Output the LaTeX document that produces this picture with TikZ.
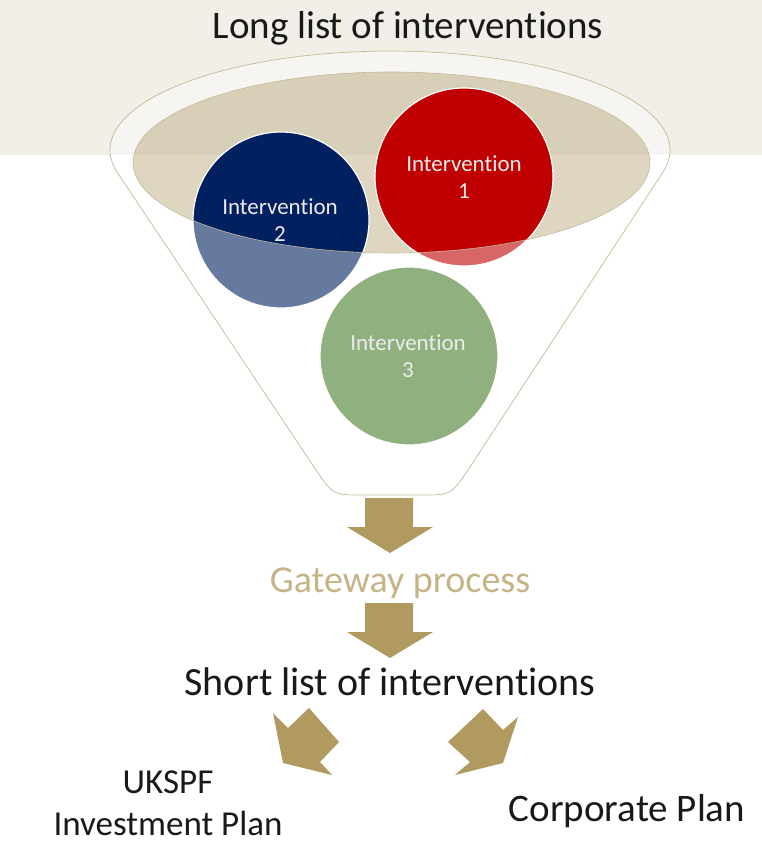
\documentclass[tikz,border=0pt]{standalone}
\usepackage{fontspec}
\setmainfont[Ligatures=NoCommon]{Carlito}
\definecolor{band}{RGB}{242,239,232}
\definecolor{tanell}{RGB}{200,187,152}
\definecolor{funline}{RGB}{196,184,150}
\definecolor{navy}{RGB}{0,32,96}
\definecolor{ired}{RGB}{192,0,0}
\definecolor{igreen}{RGB}{72,124,44}
\definecolor{arrowtan}{RGB}{176,154,95}
\definecolor{gatetxt}{RGB}{196,180,134}
\definecolor{maintxt}{RGB}{25,25,25}
\definecolor{circtext}{RGB}{236,236,236}
\tikzset{
  circ/.style={draw=white, line width=1.2pt},
  circtxt/.style={align=center, text=circtext, inner sep=0pt, font=\fontsize{23}{27}\selectfont},
  bigtxt/.style={text=maintxt, inner sep=0pt, anchor=base, font=\fontsize{39}{47}\selectfont},
  gatestyle/.style={text=gatetxt, inner sep=0pt, anchor=base, font=\fontsize{38}{46}\selectfont},
  plantxt/.style={text=maintxt, inner sep=0pt, anchor=base, font=\fontsize{35}{42}\selectfont},
  blockarrow/.style={fill=arrowtan},
  funnelline/.style={draw=funline, line width=0.7pt}
}
\def\funnelpath{(118,173.5) arc[start angle=166.3, end angle=373.7, x radius=280, y radius=99] -- (468,470) .. controls (451,495) .. (421,495) -- (363,495) .. controls (333,495) .. (316,470) -- cycle}
\begin{document}
\begin{tikzpicture}[x=1pt, y=-1pt]
\useasboundingbox (0,0) rectangle (762,848);
% top band
\fill[band] (0,0) rectangle (762,155);
% inner ellipse (top of funnel)
\fill[tanell, opacity=0.6] (391.5,162.5) ellipse [x radius=258.5, y radius=90.5];
% circles
\fill[ired] (464,177) circle [radius=89];
\fill[navy] (281,220) circle [radius=88];
\fill[igreen] (409,356) circle [radius=89];
% translucent funnel body
\fill[white, opacity=0.4, even odd rule] \funnelpath (391.5,162.5) ellipse [x radius=258.5, y radius=90.5];
% circle borders
\draw[circ] (464,177) circle [radius=89];
\draw[circ] (281,220) circle [radius=88];
\draw[circ] (409,356) circle [radius=89];
% outlines
\draw[funnelline] \funnelpath;
\draw[funline, line width=0.6pt] (391.5,162.5) ellipse [x radius=258.5, y radius=90.5];
% circle labels
\node[circtxt] (i1) at (464,177) {Intervention\\1};
\node[circtxt] (i2) at (280,220) {Intervention\\2};
\node[circtxt] (i3) at (408,356) {Intervention\\3};
% texts
\node[bigtxt] (long) at (408,39) {Long list of interventions};
\node[gatestyle] (gate) at (400,592) {Gateway process};
\node[bigtxt, font=\fontsize{40}{48}\selectfont] (short) at (390,695) {Short list of interventions};
\node[plantxt] (uk1) at (168,793) {UKSPF};
\node[plantxt] (uk2) at (168,835) {Investment Plan};
\node[bigtxt] (corp) at (627,821) {Corporate Plan};
% arrows
\fill[blockarrow] (365,498) -- (413,498) -- (413,527) -- (433,527) -- (390,553) -- (347,527) -- (365,527) -- cycle;
\fill[blockarrow] (365,603) -- (413,603) -- (413,632) -- (433,632) -- (390,658) -- (347,632) -- (365,632) -- cycle;
\fill[blockarrow] (339,742) -- (309,708) -- (288,728) -- (273,713) -- (283,763) -- (332,775) -- (320,762) -- cycle;
\fill[blockarrow] (448,742) -- (483,709) -- (503,730) -- (518,717) -- (503,763) -- (455,775) -- (470,762) -- cycle;
\end{tikzpicture}
\end{document}
